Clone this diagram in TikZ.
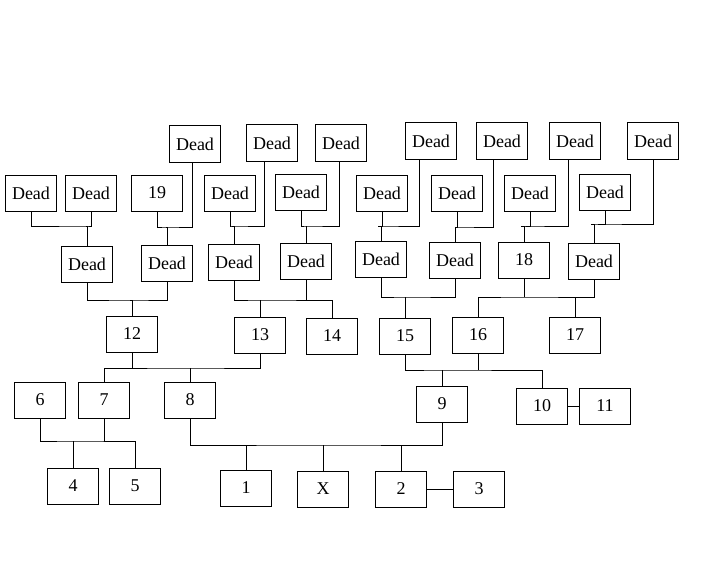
\documentclass[tikz,border=0pt]{standalone}
\usepackage{fontspec}
\setmainfont{Liberation Serif}

\tikzset{
  box/.style={draw,line width=1pt,minimum width=51pt,minimum height=36pt,inner sep=0pt,
    font=\fontsize{18}{21}\selectfont},
  link/.style={line width=1pt}
}

\begin{document}
\begin{tikzpicture}[x=1pt,y=-1pt]
  \useasboundingbox (0,0) rectangle (709,567);
  % dead ancestors
  \foreach \n/\x/\y in {t1/195/144,t2/272/143,t3/341/143,t4/431/141,t5/502/141,t6/575/141,t7/653/141,
    a1/31/193,a2/91/193,a3/230/193,a4/301/192,a5/382/193,a6/457/193,a7/530/193,a8/605/192,
    b1/87/264,b2/167/263,b3/234/262,b4/306/261,b5/381/259,b6/455/260,b8/594/261}
  {
    \node[box] (\n) at (\x,\y) {Dead};
  }
  % numbered members
  \foreach \n/\x/\y in {19/157/193,18/524/260,12/132/334,13/260/335,14/332/336,15/405/336,16/478/335,17/575/335,
    6/40/400,7/104/400,8/190/400,9/442/404,10/542/406,11/605/406,
    4/73/486,5/135/486,1/246/488,X/323/489,2/401/489,3/479/489}
  {
    \node[box] (n\n) at (\x,\y) {\n};
  }
  % junctions
  \coordinate (j1) at (86,226);
  \coordinate (j2) at (166,227);
  \coordinate (j3) at (232,226);
  \coordinate (j4) at (306,226);
  \coordinate (j5) at (378,226);
  \coordinate (j6) at (455,227);
  \coordinate (j7) at (521,226);
  \coordinate (j8) at (591,224);
  \coordinate (k1) at (130,300);
  \coordinate (k2) at (261,300);
  \coordinate (k3) at (406,297);
  \coordinate (k4) at (523,297);
  \coordinate (m1) at (189,368);
  \coordinate (m2) at (442,370);
  \coordinate (p1) at (73,441);
  \coordinate (p2) at (321,445);

  \begin{scope}[link]
    \draw (a1) |- (j1) -| (a2);  \draw (j1) -| (b1);
    \draw (n19) |- (j2) -| ([xshift=-3pt]t1.south);  \draw (j2) -| (b2);
    \draw (a3) |- (j3) -| ([xshift=-8pt]t2.south);  \draw (j3) -| (b3);
    \draw (a4) |- (j4) -| ([xshift=-2pt]t3.south);  \draw (j4) -| (b4);
    \draw (a5) |- (j5) -| ([xshift=-12pt]t4.south);  \draw (j5) -| (b5);
    \draw (a6) |- (j6) -| ([xshift=-9pt]t5.south);  \draw (j6) -| (b6);
    \draw (a7) |- (j7) -| ([xshift=-7pt]t6.south);  \draw (j7) -| (n18);
    \draw (a8) |- (j8) -| (t7);  \draw (j8) -| (b8);

    \draw (b1) |- (k1) -| (b2);  \draw (k1) -| (n12);
    \draw (b3) |- (k2) -| (n14);  \draw (b4) -- (b4 |- k2);  \draw (n13) -- (n13 |- k2);
    \draw (b5) |- (k3) -| (b6);  \draw (k3) -| (n15);
    \draw (n16) |- (k4) -| (b8);  \draw (n18) -- (n18 |- k4);  \draw (n17) -- (n17 |- k4);

    \draw (n7) |- (m1) -| (n13);  \draw (n12) -- (n12 |- m1);  \draw (n8) -- (n8 |- m1);
    \draw (n15) |- (m2) -| (n10);  \draw (n16) -- (n16 |- m2);  \draw (n9) -- (n9 |- m2);

    \draw (n6) |- (p1) -| (n5);  \draw (n7) -- (n7 |- p1);  \draw (n4) -- (n4 |- p1);
    \draw (n8) |- (p2) -| (n9);  \draw (n1) -- (n1 |- p2);  \draw (nX) -- (nX |- p2);  \draw (n2) -- (n2 |- p2);

    \draw (n10) -- (n11);
    \draw (n2) -- (n3);
  \end{scope}
\end{tikzpicture}
\end{document}
